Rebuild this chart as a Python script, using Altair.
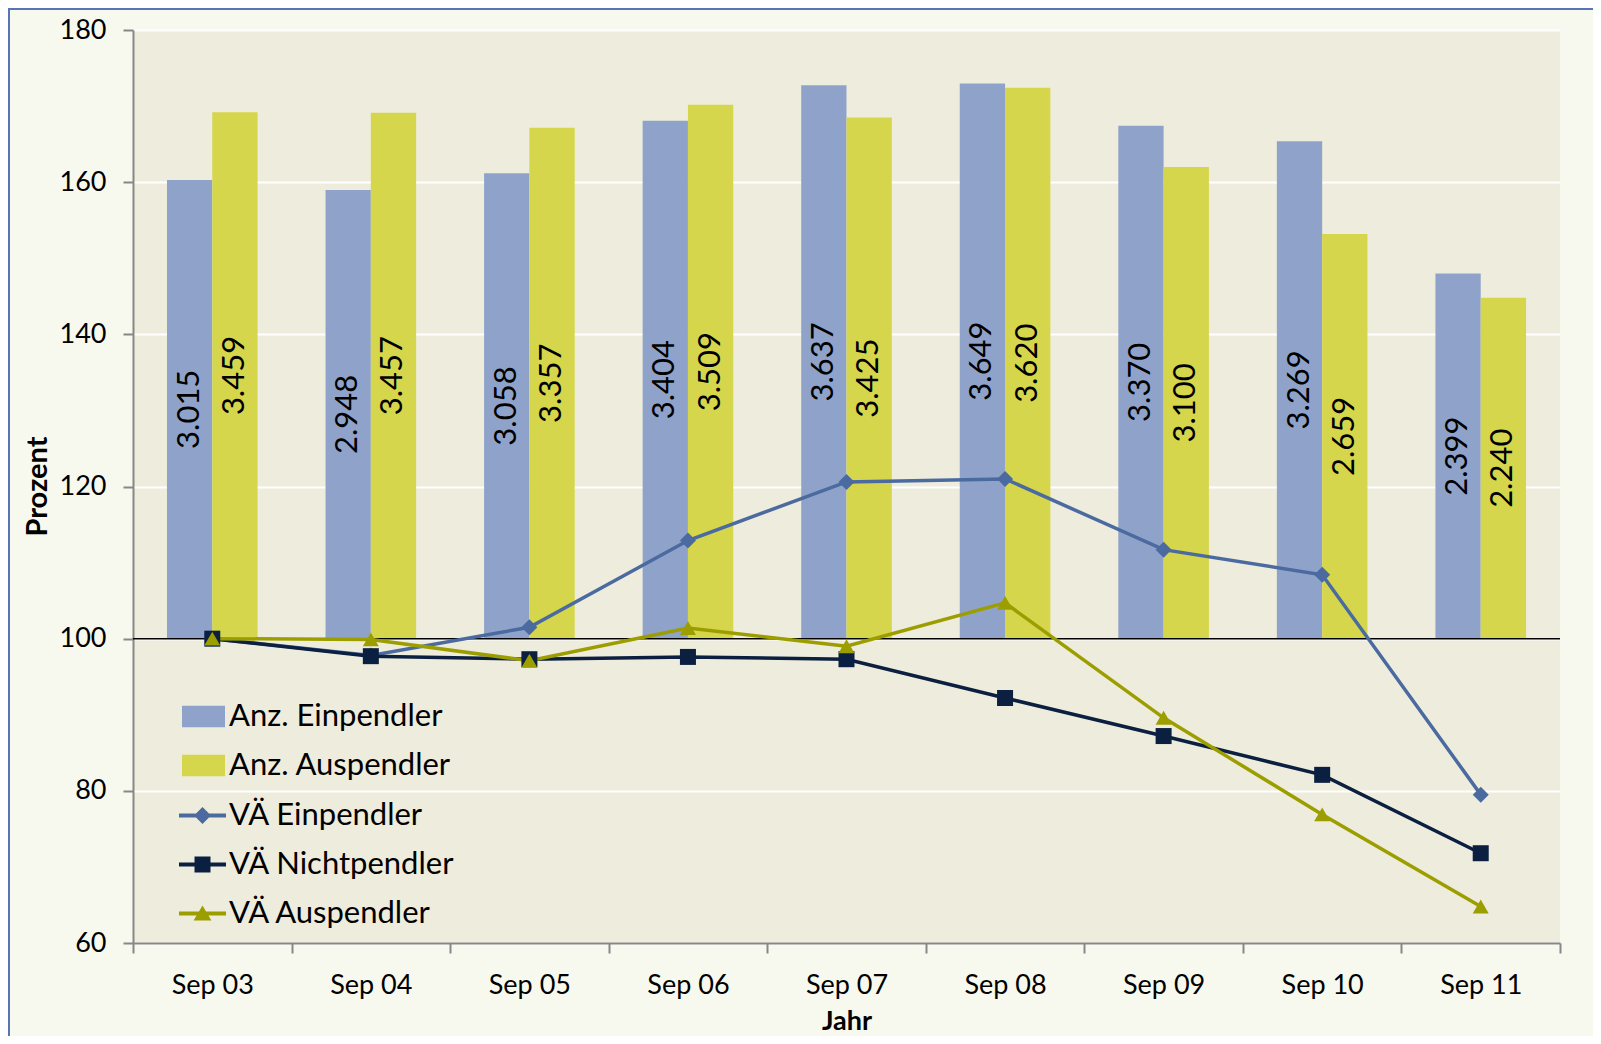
import altair as alt
import pandas as pd

cats = ["Sep 03", "Sep 04", "Sep 05", "Sep 06", "Sep 07", "Sep 08", "Sep 09", "Sep 10", "Sep 11"]

bar_series = ["Anz. Einpendler", "Anz. Auspendler"]
anz_ein = [3015, 2948, 3058, 3404, 3637, 3649, 3370, 3269, 2399]
anz_aus = [3459, 3457, 3357, 3509, 3425, 3620, 3100, 2659, 2240]

line_series = ["VÄ Einpendler", "VÄ Nichtpendler", "VÄ Auspendler"]
va_ein = [100, 97.8, 101.5, 112.9, 120.6, 121.0, 111.7, 108.4, 79.5]
va_nicht = [100, 97.7, 97.3, 97.6, 97.3, 92.2, 87.2, 82.1, 71.8]
va_aus = [100, 99.9, 97.1, 101.4, 99.0, 104.7, 89.6, 76.9, 64.8]

bar_colors = ["#8FA3CA", "#D5D64B"]
line_colors = ["#4A6AA0", "#0B2040", "#9C9E00"]
y_ticks = [60, 80, 100, 120, 140, 160, 180]

FONT = "Lato"

bar_df = pd.DataFrame({
    "Jahr": cats * 2,
    "Reihe": [bar_series[0]] * len(cats) + [bar_series[1]] * len(cats),
    "Anzahl": anz_ein + anz_aus,
})
bar_df["Label"] = [f"{v:,}".replace(",", ".") for v in bar_df["Anzahl"]]
bar_df["Mitte"] = bar_df["Anzahl"] / 2

line_df = pd.DataFrame({
    "Jahr": cats * 3,
    "Reihe": [line_series[0]] * 9 + [line_series[1]] * 9 + [line_series[2]] * 9,
    "Wert": va_ein + va_nicht + va_aus,
})

x_axis = alt.Axis(
    title="Jahr", tickBand="extent", grid=False, labelAngle=0,
    labelFontSize=27, labelFont=FONT, labelColor="black",
    labelBaseline="alphabetic", labelPadding=40, tickSize=10,
    titleFont=FONT, titleFontSize=27, titleFontWeight="bold", titleColor="black",
    titleBaseline="alphabetic", titleY=86,
)
x_enc = alt.X("Jahr:N", sort=cats, scale=alt.Scale(paddingInner=0, paddingOuter=0), axis=x_axis)

# --- bars on a secondary (hidden) count axis: 0 at 100 %, 4000 at 180 %
bar_y_scale = alt.Scale(domain=[-2000, 4000], nice=False, zero=False)
xoff = alt.XOffset("Reihe:N", sort=bar_series, scale=alt.Scale(paddingInner=0, paddingOuter=0.75))

bars = alt.Chart(bar_df).mark_bar().encode(
    x=x_enc,
    xOffset=xoff,
    y=alt.Y("Anzahl:Q", scale=bar_y_scale, axis=None),
    y2=alt.datum(0),
    color=alt.Color(
        "Reihe:N", sort=bar_series,
        scale=alt.Scale(domain=bar_series, range=bar_colors),
        legend=alt.Legend(
            orient="none", legendX=49, legendY=665, title=None, padding=0,
            symbolType="M-1,-0.5H1V0.5H-1Z", symbolSize=1849, symbolStrokeWidth=0,
            symbolOpacity=1, labelFont=FONT, labelFontSize=31, labelColor="black",
            labelOffset=4, rowPadding=12, labelLimit=0,
        ),
    ),
)

labels = alt.Chart(bar_df).mark_text(
    angle=270, fontSize=31, font=FONT, color="black", baseline="middle", align="center"
).encode(
    x=x_enc,
    xOffset=xoff,
    y=alt.Y("Mitte:Q", scale=bar_y_scale, axis=None),
    text="Label:N",
)

bar_layer = alt.layer(bars, labels)

# --- index lines on the primary axis
shape_expr = (
    "datum.value === 'VÄ Einpendler' ? 'M-1,-0.085H1V0.085H-1Z M0,-0.36L0.36,0L0,0.36L-0.36,0Z' : "
    "datum.value === 'VÄ Nichtpendler' ? 'M-1,-0.085H1V0.085H-1Z M-0.34,-0.34H0.34V0.34H-0.34Z' : "
    "'M-1,-0.085H1V0.085H-1Z M0,-0.34L0.38,0.3L-0.38,0.3Z'"
)
fill_expr = (
    f"datum.value === 'VÄ Einpendler' ? '{line_colors[0]}' : "
    f"datum.value === 'VÄ Nichtpendler' ? '{line_colors[1]}' : '{line_colors[2]}'"
)

y_axis = alt.Axis(
    values=y_ticks, grid=True, gridColor="white", gridWidth=2, tickSize=10,
    labelFont=FONT, labelFontSize=27, labelColor="black", labelPadding=17,
    title="Prozent", titleFont=FONT, titleFontSize=29, titleFontWeight="bold",
    titleColor="black", titleAngle=270, titleAlign="center", titleBaseline="alphabetic",
    titleX=-87, titleY=456, orient="left",
)
line_y = alt.Y("Wert:Q", scale=alt.Scale(domain=[60, 180], nice=False, zero=False), axis=y_axis)

line_color = alt.Color(
    "Reihe:N", sort=line_series,
    scale=alt.Scale(domain=line_series, range=line_colors),
    legend=alt.Legend(
        orient="none", legendX=46, legendY=762, title=None, padding=0,
        symbolSize=2209, labelFont=FONT, labelFontSize=31, labelColor="black",
        labelOffset=3, rowPadding=10, labelLimit=0,
        symbolType={"expr": shape_expr},
        symbolFillColor={"expr": fill_expr},
        symbolStrokeWidth=0, symbolOpacity=1,
    ),
)

rule100 = alt.Chart(alt.Data(values=[{}])).mark_rule(color="black", strokeWidth=1.5).encode(
    y=alt.datum(100)
)

lines = alt.Chart(line_df).mark_line(strokeWidth=3.5).encode(
    x=x_enc, y=line_y, color=line_color, detail="Reihe:N",
)
points = alt.Chart(line_df).mark_point(filled=True, size=256, opacity=1).encode(
    x=x_enc, y=line_y, color=line_color,
    shape=alt.Shape("Reihe:N", scale=alt.Scale(domain=line_series, range=["diamond", "square", "triangle-up"]), legend=None),
)

line_layer = alt.layer(rule100, lines, points)

# --- outer frame (top and left edge as in the original)
frame_top = alt.Chart(alt.Data(values=[{}])).mark_rule(color="#5774B4", strokeWidth=2).encode(
    x=alt.value(-125), x2=alt.value(1460), y=alt.value(-21), y2=alt.value(-21)
)
frame_left = alt.Chart(alt.Data(values=[{}])).mark_rule(color="#5774B4", strokeWidth=2).encode(
    x=alt.value(-124), x2=alt.value(-124), y=alt.value(-21), y2=alt.value(1010)
)

chart = alt.layer(bar_layer, line_layer, frame_top, frame_left).resolve_scale(
    y="independent", color="independent"
).properties(
    width=1427, height=913,
    autosize=alt.AutoSizeParams(type="none"),
    padding={"left": 125, "top": 22, "right": 33, "bottom": 93},
    background="#F8F9EE",
).configure_view(
    fill="#EEECDC", stroke=None, strokeWidth=0
).configure_axis(
    domainColor="#878787", domainWidth=2, tickColor="#878787", tickWidth=2,
)

chart.save("out.html", embed_options={"renderer": "svg", "actions": False})
